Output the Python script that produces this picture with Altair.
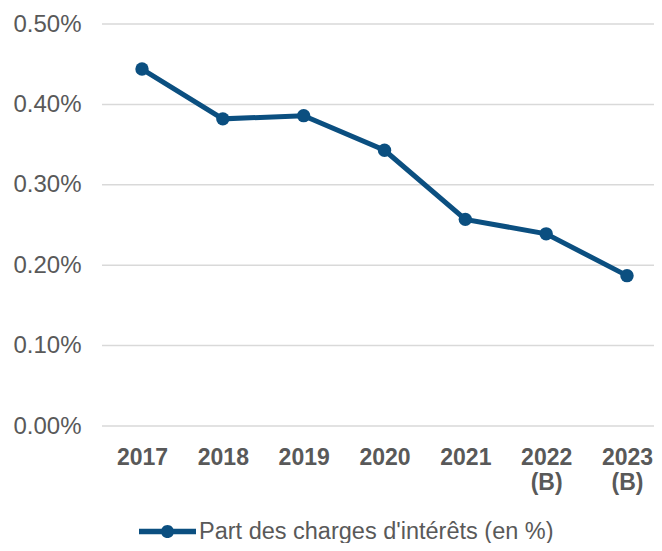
import altair as alt
import pandas as pd

years = ["2017", "2018", "2019", "2020", "2021", "2022\n(B)", "2023\n(B)"]
values = [0.00444, 0.00382, 0.00386, 0.00343, 0.00257, 0.00239, 0.00187]
series = "Part des charges d'intérêts (en %)"
y_ticks = [0.0, 0.001, 0.002, 0.003, 0.004, 0.005]

df = pd.DataFrame({"year": years, "value": values, "series": [series] * len(years)})
grid_df = pd.DataFrame({"value": y_ticks})

COLOR = "#0B4F80"
TXT = "#595959"
FONT = "Liberation Sans"
W, H = 552, 402

legend_path = ("M-1,-0.1L1,-0.1L1,0.1L-1,0.1Z "
               "M0.23,0A0.23,0.23,0,1,1,-0.23,0A0.23,0.23,0,1,1,0.23,0Z")

x = alt.X("year:N", sort=years, title=None,
          scale=alt.Scale(type="point", range=[40, 525], padding=0),
          axis=alt.Axis(labelAngle=0, labelFont=FONT, labelFontSize=23,
                        labelFontWeight="bold", labelColor=TXT, labelPadding=20,
                        labelLineHeight=25, ticks=False, domain=False, grid=False,
                        labelExpr="split(datum.label, '\\n')"))
yscale = alt.Scale(domain=[0, 0.005], nice=False)
yaxis = alt.Axis(values=y_ticks, format=".2%", labelFont=FONT,
                 labelFontSize=24, labelColor=TXT, labelPadding=21,
                 ticks=False, domain=False, grid=False)
y = alt.Y("value:Q", title=None, scale=yscale, axis=yaxis)

grid = alt.Chart(grid_df).mark_rule(color="#D9D9D9", strokeWidth=1.5).encode(
    y=y, x=alt.value(0), x2=alt.value(W),
)
line = alt.Chart(df).mark_line(color=COLOR, strokeWidth=5).encode(x=x, y=y)
points = alt.Chart(df).mark_point(filled=True, size=180, opacity=1).encode(
    x=x, y=y,
    color=alt.Color("series:N", title=None,
                    scale=alt.Scale(range=[COLOR]),
                    legend=alt.Legend(orient="none", legendX=37, legendY=479,
                                      symbolType=legend_path, symbolSize=3249,
                                      symbolFillColor=COLOR, symbolStrokeWidth=0,
                                      symbolOpacity=1,
                                      labelFont=FONT, labelFontSize=23.5,
                                      labelColor=TXT, labelOffset=3,
                                      labelLimit=600)),
)

chart = alt.layer(grid, line, points).properties(
    width=W, height=H,
    autosize=alt.AutoSizeParams(type="none"),
    padding={"left": 94, "top": 16, "right": 0, "bottom": 117},
).configure_view(stroke=None)

chart.save("out.html", embed_options={"renderer": "svg", "actions": False})
